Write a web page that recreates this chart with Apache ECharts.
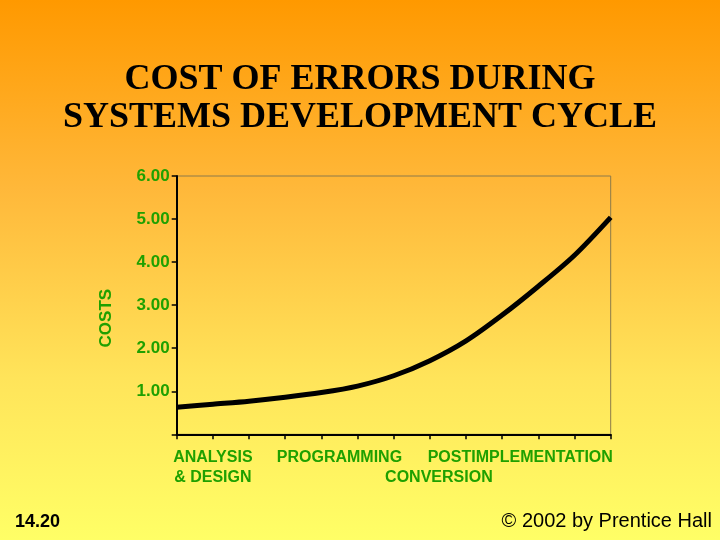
<!DOCTYPE html>
<html>
<head>
<meta charset="utf-8">
<script src="https://cdn.jsdelivr.net/npm/echarts@6/dist/echarts.min.js"></script>
<style>
  html, body { margin: 0; padding: 0; }
  #chart { width: 720px; height: 540px; }
</style>
</head>
<body>
<div id="chart"></div>
<script>
// cost at each tick along the development cycle
const costs = [0.63, 0.70, 0.77, 0.86, 0.97, 1.12, 1.36, 1.71, 2.17, 2.77, 3.44, 4.16, 5.04]
const phaseLabels = ['ANALYSIS\n& DESIGN', 'PROGRAMMING', '\nCONVERSION', 'POSTIMPLEMENTATION']
const phasePositions = [1, 4.5, 7.25, 9.5]
const yTicks = [0, 1, 2, 3, 4, 5, 6]

const green = '#1fa000'
const chart = echarts.init(document.getElementById('chart'), null, { renderer: 'canvas' })

chart.setOption({
  backgroundColor: {
    type: 'linear', x: 0, y: 0, x2: 0, y2: 1,
    colorStops: [
      { offset: 0, color: '#ff9900' },
      { offset: 0.35, color: '#ffb83a' },
      { offset: 0.7, color: '#ffe45a' },
      { offset: 1, color: '#ffff66' }
    ]
  },
  animation: false,
  title: [{
    text: 'COST OF ERRORS DURING\nSYSTEMS DEVELOPMENT CYCLE',
    left: 'center',
    top: 56,
    textStyle: {
      fontFamily: 'Liberation Serif',
      fontWeight: 'bold',
      fontSize: 36,
      lineHeight: 38,
      color: '#000',
      textShadowColor: 'rgba(120,80,0,0.4)',
      textShadowOffsetX: 2,
      textShadowOffsetY: 2
    }
  }, {
    text: '14.20',
    left: 10,
    top: 508,
    textStyle: { fontFamily: 'Arial', fontWeight: 'bold', fontSize: 18, color: '#000' }
  }, {
    text: '© 2002 by Prentice Hall',
    right: 3,
    top: 506,
    textStyle: { fontFamily: 'Arial', fontWeight: 'normal', fontSize: 20, color: '#000' }
  }],
  grid: {
    left: 176.7, right: 109.3, top: 176, bottom: 105.7,
    show: true, borderColor: '#8c7a4a', borderWidth: 1
  },
  xAxis: [{
    type: 'value', min: 0, max: 12, interval: 1,
    axisLine: { lineStyle: { color: '#000', width: 2 } },
    axisTick: { length: 5, lineStyle: { color: '#000', width: 1.5 } },
    axisLabel: { show: false },
    splitLine: { show: false }
  }, {
    type: 'value', min: 0, max: 12, interval: 0.25, position: 'bottom',
    axisLine: { show: false },
    axisTick: { show: false },
    splitLine: { show: false },
    axisLabel: {
      margin: 13,
      color: green,
      fontFamily: 'Arial',
      fontWeight: 'bold',
      fontSize: 16,
      lineHeight: 20,
      formatter: v => {
        const i = phasePositions.indexOf(v)
        return i >= 0 ? phaseLabels[i] : ''
      }
    }
  }],
  yAxis: {
    type: 'value', min: yTicks[0], max: yTicks[yTicks.length - 1], interval: 1,
    name: 'COSTS',
    nameLocation: 'middle',
    nameGap: 62,
    nameTextStyle: {
      color: green, fontFamily: 'Arial', fontWeight: 'bold', fontSize: 17,
      padding: [0, 26, 0, 0]
    },
    axisLine: { show: true, lineStyle: { color: '#000', width: 2 } },
    axisTick: { show: true, length: 5, lineStyle: { color: '#000', width: 1.5 } },
    splitLine: { show: false },
    axisLabel: {
      margin: 7,
      color: green,
      fontFamily: 'Arial',
      fontWeight: 'bold',
      fontSize: 17,
      formatter: v => (v === 0 ? '' : v.toFixed(2))
    }
  },
  series: [{
    type: 'line',
    xAxisIndex: 0,
    smooth: 0.3,
    showSymbol: false,
    lineStyle: { color: '#000', width: 5 },
    data: costs.map((v, i) => [i, v])
  }]
})
</script>
</body>
</html>
